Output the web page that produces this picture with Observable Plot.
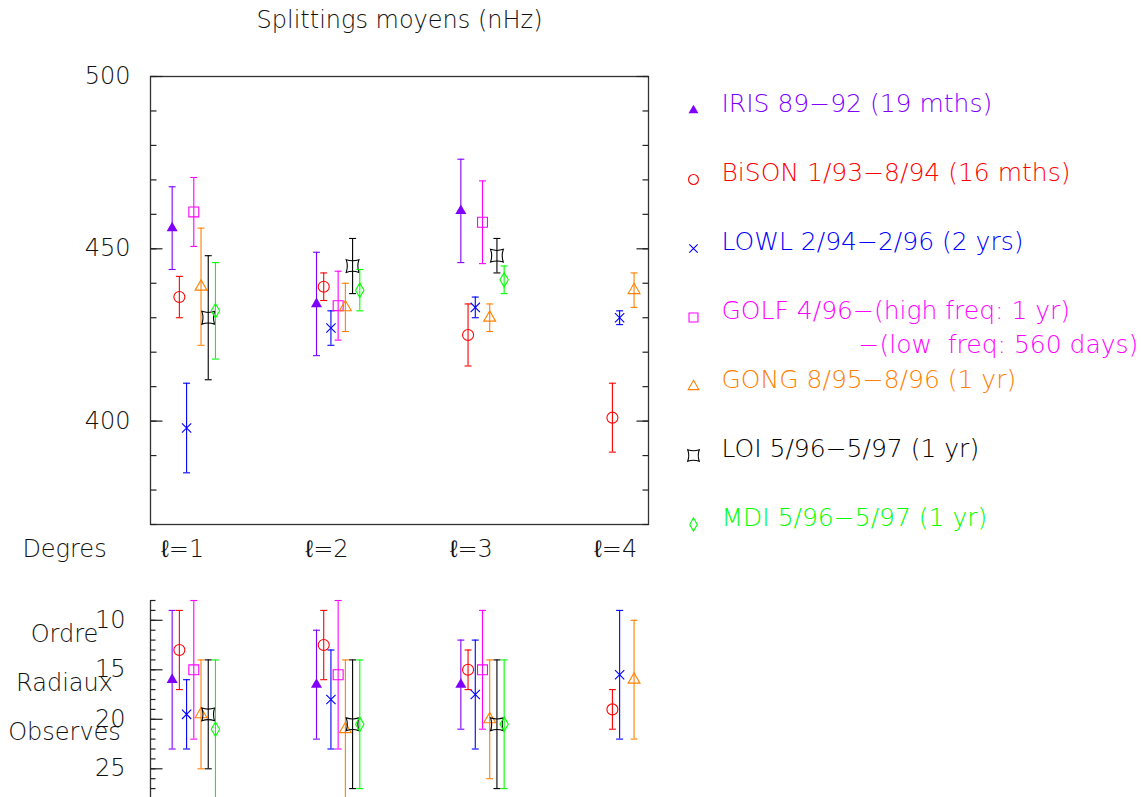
<!DOCTYPE html>
<html><head><meta charset="utf-8">
<script src="https://cdn.jsdelivr.net/npm/d3@7"></script>
<script src="https://cdn.jsdelivr.net/npm/@observablehq/plot@0.6"></script>
<style>
html,body{margin:0;padding:0;background:#fff;}
#chart{position:relative;width:1141px;height:797px;overflow:hidden;background:#fff;}
#chart svg{position:absolute;}
</style></head><body><div id="chart"></div>
<script>
// ---------- data ----------
const series = ["IRIS", "BiSON", "LOWL", "GOLF", "GONG", "LOI", "MDI"];
const seriesLabels = [
  "IRIS 89−92 (19 mths)",
  "BiSON 1/93−8/94 (16 mths)",
  "LOWL 2/94−2/96 (2 yrs)",
  "GOLF 4/96−(high freq: 1 yr)",
  "GONG 8/95−8/96 (1 yr)",
  "LOI 5/96−5/97 (1 yr)",
  "MDI 5/96−5/97 (1 yr)"
];
const golfSecondLine = "−(low\u00a0 freq: 560 days)";
const colors = ["#8000ff", "#ff0000", "#0000ff", "#ff00ff", "#ff8000", "#000000", "#00ff00"];
const degrees = [1, 2, 3, 4];
const degreeLabels = ["ℓ=1", "ℓ=2", "ℓ=3", "ℓ=4"];
const title = "Splittings moyens (nHz)";
const xTitle = "Degres";
const bottomTitle = "Ordre\nRadiaux\nObserves";
const splitTicks = [400, 450, 500];
const orderTicks = [10, 15, 20, 25];

// mean splittings (nHz): [degree, value, error]
const irisSplit  = [[1, 456, 12], [2, 434, 15], [3, 461, 15]];
const bisonSplit = [[1, 436, 6], [2, 439, 4], [3, 425, 9], [4, 401, 10]];
const lowlSplit  = [[1, 398, 13], [2, 427, 5], [3, 433, 3], [4, 430, 2]];
const golfSplit  = [[1, 460.7, 10], [2, 433.5, 10], [3, 457.7, 12]];
const gongSplit  = [[1, 439, 17], [2, 433, 7], [3, 430, 4], [4, 438, 5]];
const loiSplit   = [[1, 430, 18], [2, 445, 8], [3, 448, 5]];
const mdiSplit   = [[1, 432, 14], [2, 438, 6], [3, 441, 4]];

// observed radial orders: [degree, mean n, n min, n max]
const irisOrder  = [[1, 16, 9, 23], [2, 16.5, 11, 22], [3, 16.5, 12, 21]];
const bisonOrder = [[1, 13, 9, 17], [2, 12.5, 9, 16], [3, 15, 13, 17], [4, 19, 17, 21]];
const lowlOrder  = [[1, 19.5, 16, 23], [2, 18, 13, 23], [3, 17.5, 12, 23], [4, 15.5, 9, 22]];
const golfOrder  = [[1, 15, 8, 22], [2, 15.5, 8, 23], [3, 15, 9, 21]];
const gongOrder  = [[1, 19.5, 14, 25], [2, 21, 14, 28], [3, 20, 14, 26], [4, 16, 10, 22]];
const loiOrder   = [[1, 19.5, 14, 25], [2, 20.5, 14, 27], [3, 20.5, 14, 27]];
const mdiOrder   = [[1, 21, 14, 28], [2, 20.5, 14, 27], [3, 20.5, 14, 27]];

const splitData = [irisSplit, bisonSplit, lowlSplit, golfSplit, gongSplit, loiSplit, mdiSplit];
const orderData = [irisOrder, bisonOrder, lowlOrder, golfOrder, gongOrder, loiOrder, mdiOrder];

// ---------- styling ----------
const FONT = "'DejaVu Sans', 'Liberation Sans', sans-serif";
const xDomain = [0.75, 4.2];
const offsetStep = 0.05;

const loiSymbol = {
  draw(ctx, size) {
    const h = Math.sqrt(size) / 2, c = h * 0.35;
    ctx.moveTo(-h, -h);
    ctx.quadraticCurveTo(0, -h + c, h, -h);
    ctx.quadraticCurveTo(h - c, 0, h, h);
    ctx.quadraticCurveTo(0, h - c, -h, h);
    ctx.quadraticCurveTo(-h + c, 0, -h, -h);
    ctx.closePath();
  }
};
const symbols = ["triangle", "circle", "times", "square", "triangle", loiSymbol, "diamond"];
const radii = [4.1, 5.5, 4.3, 5.6, 4.4, 7.2, 4.4];
const filled = [true, false, false, false, false, false, false];
const lineShape = { draw(ctx, l) { ctx.moveTo(0, 0); ctx.lineTo(0, -l); } };

function markerMarks(rows, i, yKey, scale = 1) {
  return Plot.dot(rows, {
    x: "x", y: yKey, symbol: symbols[i], r: radii[i] * scale,
    fill: filled[i] ? colors[i] : "none",
    stroke: filled[i] ? "none" : colors[i], strokeWidth: 1.1
  });
}
function capMarks(rows, i, key) {
  return Plot.vector(rows, {
    x: "x", y: key, length: 7, rotate: 90, anchor: "middle", shape: lineShape,
    stroke: colors[i], strokeWidth: 1.1, strokeLinecap: "butt"
  });
}
function tickMarks(values, len, side) {
  return Plot.vector(values, {
    y: d => d, frameAnchor: side, length: len, rotate: side === "left" ? 90 : -90,
    anchor: "start", shape: lineShape, stroke: "#222", strokeWidth: 1.2, strokeLinecap: "butt"
  });
}

const chart = document.getElementById("chart");

// ---------- top panel: splittings ----------
const topMarks = [
  Plot.frame({ stroke: "#333", strokeWidth: 1.3 }),
  tickMarks(d3.range(370, 501, 10), 6, "left"),
  tickMarks(d3.range(370, 501, 10), 6, "right"),
  tickMarks(d3.range(400, 501, 50), 12, "left"),
  tickMarks(d3.range(400, 501, 50), 12, "right"),
  Plot.text(splitTicks, { y: d => d, text: d => String(d), frameAnchor: "left", textAnchor: "end", lineAnchor: "middle", dx: -20, fill: "#111" }),
  Plot.text([title], { text: d => d, frameAnchor: "top", lineAnchor: "middle", dy: -56, fill: "#111" }),
  Plot.text([xTitle], { text: d => d, frameAnchor: "bottom-left", textAnchor: "middle", lineAnchor: "middle", dx: -86, dy: 25, fill: "#111" }),
  Plot.text(degrees, { x: d => d, text: (d, k) => degreeLabels[k], frameAnchor: "bottom", lineAnchor: "middle", dx: -4, dy: 25, fill: "#111" })
];
splitData.forEach((arr, i) => {
  const rows = arr.map(([l, v, e]) => ({ x: l + (i - 2) * offsetStep, v, lo: v - e, hi: v + e }));
  topMarks.push(
    Plot.ruleX(rows, { x: "x", y1: "lo", y2: "hi", stroke: colors[i], strokeWidth: 1.1 }),
    capMarks(rows, i, "lo"), capMarks(rows, i, "hi"),
    markerMarks(rows, i, "v")
  );
});
const topPlot = Plot.plot({
  width: 670, height: 580,
  marginLeft: 150, marginRight: 22, marginTop: 76, marginBottom: 56,
  x: { domain: xDomain, axis: null },
  y: { domain: [370, 500], axis: null },
  style: { fontFamily: FONT, fontSize: "24px", fontWeight: "200", background: "transparent", overflow: "visible" },
  marks: topMarks
});
topPlot.style.left = "0px"; topPlot.style.top = "0px";
chart.appendChild(topPlot);

// ---------- bottom panel: radial orders ----------
const botMarks = [
  Plot.ruleX([xDomain[0]], { stroke: "#333", strokeWidth: 1.3 }),
  tickMarks(d3.range(8, 29, 1), 5, "left"),
  tickMarks(d3.range(10, 29, 5), 12, "left"),
  Plot.text(orderTicks, { y: d => d, text: d => String(d), frameAnchor: "left", textAnchor: "end", lineAnchor: "middle", dx: -25, fill: "#111" }),
  Plot.text([bottomTitle], { text: d => d, frameAnchor: "top-left", textAnchor: "middle", lineAnchor: "middle", dx: -86, dy: 75, lineHeight: 2.03, fill: "#111" })
];
orderData.forEach((arr, i) => {
  const rows = arr.map(([l, n, lo, hi]) => ({ x: l + (i - 2) * offsetStep, n, lo, hi }));
  botMarks.push(
    Plot.ruleX(rows, { x: "x", y1: "lo", y2: "hi", stroke: colors[i], strokeWidth: 1.1 }),
    capMarks(rows, i, "lo"), capMarks(rows, i, "hi"),
    markerMarks(rows, i, "n")
  );
});
const bottomPlot = Plot.plot({
  width: 670, height: 238,
  marginLeft: 150, marginRight: 22, marginTop: 40, marginBottom: 0,
  x: { domain: xDomain, axis: null },
  y: { domain: [8, 28], reverse: true, axis: null },
  style: { fontFamily: FONT, fontSize: "24px", fontWeight: "200", background: "transparent", overflow: "visible" },
  marks: botMarks
});
bottomPlot.style.left = "0px"; bottomPlot.style.top = "560px";
chart.appendChild(bottomPlot);

// ---------- legend ----------
const legMarks = [];
series.forEach((name, i) => {
  legMarks.push(
    Plot.dot([name], {
      y: d => d, frameAnchor: "left", dx: 23, dy: 7, symbol: symbols[i], r: radii[i] * 0.9,
      fill: filled[i] ? colors[i] : "none", stroke: filled[i] ? "none" : colors[i], strokeWidth: 1.1
    }),
    Plot.text([name], { y: d => d, text: () => seriesLabels[i], frameAnchor: "left", textAnchor: "start", lineAnchor: "middle", dx: 51, fill: colors[i] })
  );
});
legMarks.push(Plot.text(["GOLF"], { y: d => d, text: () => golfSecondLine, frameAnchor: "left", textAnchor: "start", lineAnchor: "middle", dx: 188, dy: 34, fill: colors[3] }));
const legendPlot = Plot.plot({
  width: 471, height: 560,
  marginLeft: 0, marginRight: 0, marginTop: 103, marginBottom: 43,
  x: { domain: [0, 1], axis: null },
  y: { type: "point", domain: series, padding: 0, axis: null },
  style: { fontFamily: FONT, fontSize: "25px", fontWeight: "200", background: "transparent", overflow: "visible" },
  marks: legMarks
});
legendPlot.style.left = "670px"; legendPlot.style.top = "0px";
chart.appendChild(legendPlot);
</script>
</body></html>
